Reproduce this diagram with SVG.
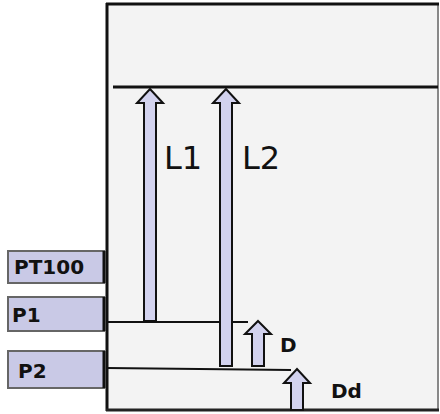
<svg xmlns="http://www.w3.org/2000/svg" width="440" height="414" viewBox="0 0 440 414">
<style>
.arrow{fill:#d2d2ee;stroke:#111;stroke-width:2;stroke-linejoin:miter}
.box{fill:#c9c9e6;stroke:#666;stroke-width:2}
.lbl{font-family:"DejaVu Sans",sans-serif;font-weight:bold;fill:#111}
.big{font-family:"DejaVu Sans",sans-serif;font-size:32px;fill:#111}
.lvl{stroke:#111;fill:none}
</style>
<rect width="440" height="414" fill="#ffffff"/>
<g id="frame">
<rect x="107" y="4" width="331" height="406" fill="#f3f3f3" stroke="none"/>
<line x1="438" y1="4" x2="438" y2="410" stroke="#888" stroke-width="2"/>
<line x1="106" y1="4" x2="439" y2="4" stroke="#111" stroke-width="3"/>
<line x1="107" y1="3" x2="107" y2="411" stroke="#111" stroke-width="3"/>
<line x1="106" y1="410" x2="439" y2="410" stroke="#222" stroke-width="3"/>
</g>
<g id="levels">
<line class="lvl" x1="113" y1="87" x2="438" y2="87" stroke-width="3"/>
<line class="lvl" x1="107" y1="322" x2="248" y2="322" stroke-width="2"/>
<line class="lvl" x1="107" y1="368" x2="291" y2="370" stroke-width="2"/>
</g>
<g id="connectors">
<path id="L1-arrow" class="arrow" d="M150,89 L163,103 L156,103 L156,321 L144,321 L144,103 L137,103 Z"/>
<path id="L2-arrow" class="arrow" d="M226,89 L239,103 L232,103 L232,366 L220,366 L220,103 L213,103 Z"/>
<path id="D-arrow" class="arrow" d="M258,321 L271,334 L264,334 L264,366 L252,366 L252,334 L245,334 Z"/>
<path id="Dd-arrow" class="arrow" d="M297,369 L310,383 L303,383 L303,410 L291,410 L291,383 L284,383 Z"/>
<text class="big" x="164" y="169">L1</text>
<text class="big" x="242" y="169">L2</text>
<text class="lbl" x="280" y="352" font-size="20">D</text>
<text class="lbl" x="331" y="398" font-size="20">Dd</text>
</g>
<g id="PT100">
<rect class="box" x="8" y="251" width="96" height="32"/>
<line x1="104" y1="251" x2="104" y2="283" stroke="#111" stroke-width="3"/>
<text class="lbl" x="14" y="274" font-size="20">PT100</text>
</g>
<g id="P1">
<rect class="box" x="8" y="297" width="96" height="34"/>
<line x1="104" y1="297" x2="104" y2="331" stroke="#111" stroke-width="3"/>
<text class="lbl" x="12" y="322" font-size="20">P1</text>
</g>
<g id="P2">
<rect class="box" x="8" y="351" width="96" height="37"/>
<line x1="104" y1="351" x2="104" y2="388" stroke="#111" stroke-width="3"/>
<text class="lbl" x="18" y="378" font-size="20">P2</text>
</g>
</svg>
